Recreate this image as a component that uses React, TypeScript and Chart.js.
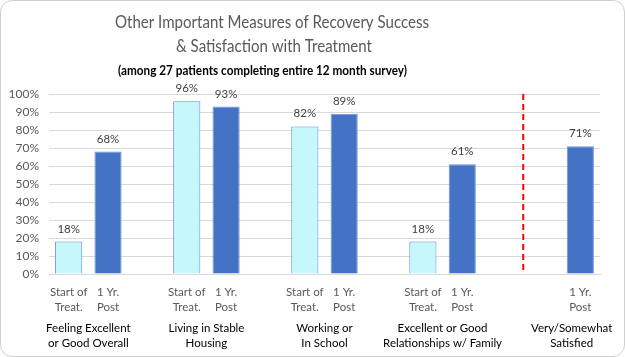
import React, { useEffect, useRef } from "react";
import { Chart, registerables } from "chart.js";

Chart.register(...registerables);

const titleLines = ["Other Important Measures of Recovery Success", "& Satisfaction with Treatment"];
const subtitleText = "(among 27 patients completing entire 12 month survey)";
const groupLabels: string[][] = [
  ["Feeling Excellent", "or Good Overall"],
  ["Living in Stable", "Housing"],
  ["Working or", "In School"],
  ["Excellent or Good", "Relationships w/ Family"],
  ["Very/Somewhat", "Satisfied"],
];
const startLabel = ["Start of", "Treat."];
const postLabel = ["1 Yr.", "Post"];
const startValues: (number | null)[] = [18, 96, 82, 18, null];
const postValues: (number | null)[] = [68, 93, 89, 61, 71];
const yMin = 0;
const yMax = 100;
const yStep = 10;

const FONT = "Lato, 'Open Sans', sans-serif";

function fillFit(ctx: CanvasRenderingContext2D, text: string, cx: number, cy: number, w: number) {
  const m = ctx.measureText(text).width;
  const s = w / m;
  ctx.save();
  ctx.translate(cx, cy);
  ctx.scale(s, 1);
  ctx.fillText(text, 0, 0);
  ctx.restore();
}

export default function App() {
  const ref = useRef<HTMLCanvasElement>(null);

  useEffect(() => {
    document.body.style.margin = "0";
    const n = groupLabels.length;
    const slots = n * 3 - 1;
    const labels: string[] = [];
    const startData: (number | null)[] = [];
    const postData: (number | null)[] = [];
    for (let i = 0; i < slots; i++) {
      labels.push("");
      startData.push(null);
      postData.push(null);
    }
    for (let g = 0; g < n; g++) {
      startData[g * 3] = startValues[g];
      postData[g * 3 + 1] = postValues[g];
    }

    const overlay = {
      id: "overlay",
      afterDraw(chart: any) {
        const ctx = chart.ctx as CanvasRenderingContext2D;
        const x = chart.scales.x;
        const y = chart.scales.y;
        const area = chart.chartArea;
        ctx.save();
        // titles
        ctx.textAlign = "center";
        ctx.textBaseline = "middle";
        ctx.fillStyle = "#595959";
        ctx.font = `18px ${FONT}`;
        fillFit(ctx, titleLines[0], 271, 21, 314);
        fillFit(ctx, titleLines[1], 273, 45, 196);
        ctx.fillStyle = "#000000";
        ctx.font = `bold 13px ${FONT}`;
        fillFit(ctx, subtitleText, 261.5, 70, 289);

        // red dashed separator
        ctx.strokeStyle = "#FF0000";
        ctx.lineWidth = 2;
        ctx.setLineDash([6, 4]);
        const sx = x.getPixelForValue(11.55);
        ctx.beginPath();
        ctx.moveTo(sx, area.top);
        ctx.lineTo(sx, area.bottom);
        ctx.stroke();
        ctx.setLineDash([]);

        // data labels
        ctx.font = `11.5px ${FONT}`;
        ctx.fillStyle = "#404040";
        ctx.textBaseline = "alphabetic";
        for (let g = 0; g < n; g++) {
          const sv = startValues[g];
          const pv = postValues[g];
          if (sv != null) ctx.fillText(sv + "%", x.getPixelForValue(g * 3), y.getPixelForValue(sv) - 9);
          if (pv != null) ctx.fillText(pv + "%", x.getPixelForValue(g * 3 + 1), y.getPixelForValue(pv) - 9);
        }

        // sub-category labels
        ctx.textBaseline = "middle";
        ctx.fillStyle = "#595959";
        ctx.font = `11.5px ${FONT}`;
        for (let g = 0; g < n; g++) {
          if (startValues[g] != null) {
            const px = x.getPixelForValue(g * 3);
            ctx.fillText(startLabel[0], px, 291);
            ctx.fillText(startLabel[1], px, 306);
          }
          if (postValues[g] != null) {
            const px = x.getPixelForValue(g * 3 + 1);
            ctx.fillText(postLabel[0], px, 291);
            ctx.fillText(postLabel[1], px, 306);
          }
        }
        // group labels
        ctx.fillStyle = "#000000";
        ctx.font = `11.5px ${FONT}`;
        for (let g = 0; g < n; g++) {
          const c = g === n - 1 ? g * 3 + 0.78 : g * 3 + 0.5;
          const px = x.getPixelForValue(c);
          ctx.fillText(groupLabels[g][0], px, 327);
          ctx.fillText(groupLabels[g][1], px, 342);
        }
        ctx.restore();
      },
    };

    const chart = new Chart(ref.current!, {
      type: "bar",
      data: {
        labels,
        datasets: [
          {
            label: "Start of Treat.",
            data: startData,
            backgroundColor: "#C5F7FB",
            borderColor: "#5B8FD6",
            borderWidth: 1,
            barPercentage: 0.69,
            categoryPercentage: 1,
          },
          {
            label: "1 Yr. Post",
            data: postData,
            backgroundColor: "#4472C4",
            borderColor: "#6F95DA",
            borderWidth: 1,
            barPercentage: 0.69,
            categoryPercentage: 1,
          },
        ],
      },
      options: {
        responsive: false,
        animation: false,
        layout: { padding: { top: 93, right: 24, bottom: 74, left: 0 } },
        plugins: {
          legend: { display: false },
          title: { display: false },
          tooltip: { enabled: false },
        },
        scales: {
          x: {
            stacked: true,
            grid: { display: false },
            border: { display: true, color: "#D9D9D9" },
            ticks: { display: false },
          },
          y: {
            min: yMin,
            max: yMax,
            afterFit: (s: any) => {
              s.width = 48;
            },
            ticks: {
              stepSize: yStep,
              autoSkip: false,
              padding: 10,
              color: "#595959",
              font: { family: FONT, size: 12 },
              callback: (v: any) => v + "%",
            },
            grid: { color: "#D9D9D9", drawTicks: false },
            border: { display: false },
          },
        },
      },
      plugins: [overlay],
    });
    return () => chart.destroy();
  }, []);

  return (
    <div
      style={{
        position: "absolute",
        left: 0,
        top: 0,
        width: 625,
        height: 357,
        boxSizing: "border-box",
        border: "1px solid #D0D0D0",
        borderRadius: 12,
        overflow: "hidden",
        background: "#fff",
      }}
    >
      <canvas ref={ref} width={623} height={355} style={{ display: "block" }} />
    </div>
  );
}
